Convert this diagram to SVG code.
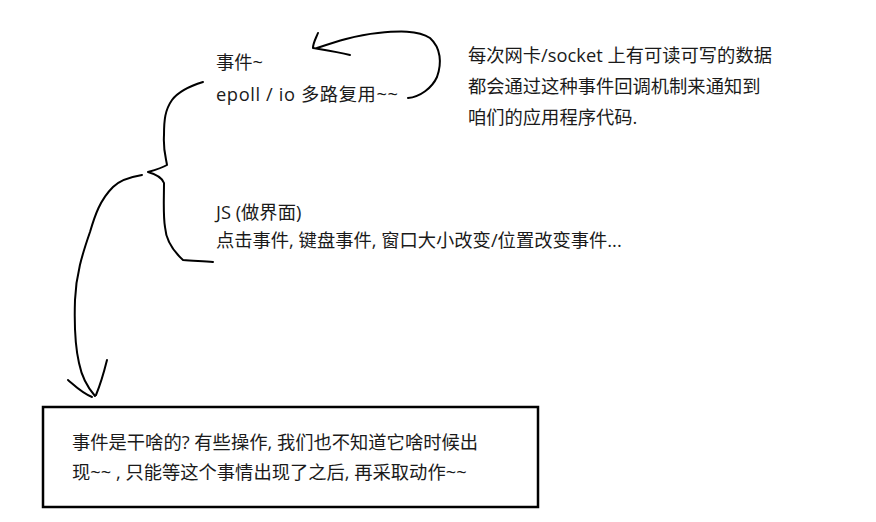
<svg xmlns="http://www.w3.org/2000/svg" width="876" height="522" viewBox="0 0 876 522">
<style>
text{font-family:"Open Sans","Noto Sans CJK SC",sans-serif;font-size:18.3px;fill:#1a1a1a}
.ink{fill:none;stroke:#000;stroke-width:2;stroke-linecap:round;stroke-linejoin:round}
</style>
<rect width="876" height="522" fill="#fff"/>
<g id="epoll-node">
<text x="216" y="69">事件~</text>
<text x="216" y="101" textLength="182" lengthAdjust="spacing">epoll / io 多路复用~~</text>
</g>
<g id="note-node">
<text x="468" y="62">每次网卡/socket 上有可读可写的数据</text>
<text x="468" y="93">都会通过这种事件回调机制来通知到</text>
<text x="468" y="124">咱们的应用程序代码.</text>
</g>
<g id="js-node">
<text x="216" y="219">JS (做界面)</text>
<text x="216" y="247">点击事件, 键盘事件, 窗口大小改变/位置改变事件...</text>
</g>
<g id="summary-node">
<rect x="43" y="407" width="495" height="100" fill="#fff" stroke="#000" stroke-width="2.5"/>
<text x="72" y="449">事件是干啥的? 有些操作, 我们也不知道它啥时候出</text>
<text x="72" y="479">现~~ , 只能等这个事情出现了之后, 再采取动作~~</text>
</g>
<g id="connectors">
<path class="ink" d="M408,98 C420,97 432,88 437,77 C442,63 441,48 430,38 C418,30 398,31 378,33 C356,35 335,42 317,48"/>
<path class="ink" d="M318,33 C316,38 313,43 313,48 C325,50 338,52 350,55"/>
<path class="ink" d="M203,82 C190,86 178,92 172,100 C165,110 164,120 164,135 C163,150 166,158 167,165 C162,168 155,170 148,172 C155,174 162,177 164,183 C164,200 163,215 165,227 C166,240 172,250 183,260 C193,261 203,261 213,262"/>
<path class="ink" d="M142,175 C130,177 120,180 113,187 C100,200 95,215 90,232 C82,255 76,275 75,300 C74,330 76,350 79,363 C82,378 88,388 95,396"/>
<path class="ink" d="M68,380 C75,386 82,393 92,397 M107,360 C104,372 101,383 96,395"/>
</g>
</svg>
